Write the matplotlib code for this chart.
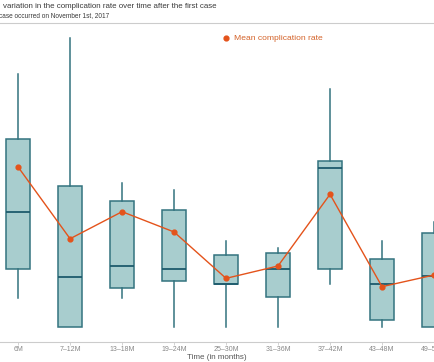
import matplotlib
matplotlib.use("Agg")
import matplotlib.pyplot as plt

plt.rcParams['font.family'] = ['Liberation Sans', 'DejaVu Sans']

categories = ["6M", "7\u201312M", "13\u201318M", "19\u201324M", "25\u201330M",
              "31\u201336M", "37\u201342M", "43\u201348M", "49\u201354M"]
whislo = [4.20, 1.41, 4.20, 1.41, 1.41, 1.41, 5.58, 1.41, 1.41]
q1     = [6.99, 1.41, 5.22, 5.89, 5.55, 4.36, 6.99, 2.12, 1.47]
median = [12.53, 6.25, 7.31, 6.99, 5.55, 6.99, 16.76, 5.58, 6.35]
q3     = [19.52, 15.00, 13.59, 12.69, 8.34, 8.53, 17.40, 8.01, 10.45]
whishi = [25.74, 29.20, 15.26, 14.62, 9.71, 9.01, 24.33, 9.71, 11.50]
mean_rate = [16.83, 9.93, 12.53, 10.58, 6.12, 7.31, 14.20, 5.32, 6.44]

W, H = 434, 362
fig = plt.figure(figsize=(W / 100, H / 100), dpi=100)
ax = fig.add_axes([0, 20 / H, 1, 312 / H])

stats = []
for i, c in enumerate(categories):
    stats.append(dict(label=c, whislo=whislo[i], q1=q1[i], med=median[i],
                      q3=q3[i], whishi=whishi[i], fliers=[]))

pos = list(range(len(categories)))
edge = "#33737f"
ax.bxp(stats, positions=pos, widths=0.46, patch_artist=True, showcaps=False,
       showfliers=False,
       boxprops=dict(facecolor="#a8cdce", edgecolor=edge, linewidth=1.1),
       medianprops=dict(color="#1d5a6c", linewidth=1.3),
       whiskerprops=dict(color=edge, linewidth=1.1))

orange = "#e4531b"
ax.plot(pos, mean_rate, color=orange, linewidth=1.0, zorder=5)
ax.scatter(pos, mean_rate, color=orange, s=12, zorder=6,
           label="Mean complication rate")

px0 = 18.3
step = 52.6
ax.set_xlim(-px0 / step, (W - px0) / step)
ax.set_ylim(0, 30)

for s in ["top", "right", "left"]:
    ax.spines[s].set_visible(False)
ax.spines["bottom"].set_color("#cccccc")
ax.spines["bottom"].set_linewidth(0.8)
ax.set_yticks([])
ax.set_xticks(pos)
ax.set_xticklabels(categories, fontsize=5, color="#888888")
ax.tick_params(axis="x", length=2, width=0.6, color="#cccccc", pad=1)
ax.set_xlabel("Time (in months)", fontsize=5.8, color="#555555", labelpad=0.5)

leg = ax.legend(loc="center left", bbox_to_anchor=(222 / W, 1 - 38 / H),
                bbox_transform=fig.transFigure, frameon=False, fontsize=6.1,
                handletextpad=0.4, borderaxespad=0, borderpad=0,
                handlelength=1.0, labelcolor="#d4632a")

fig.text(3 / W, 1 - 6.5 / H, "variation in the complication rate over time after the first case",
         fontsize=5.7, color="#3a3a3a", ha="left", va="center")
fig.text(-1 / W, 1 - 16 / H, "case occurred on November 1st, 2017",
         fontsize=4.7, color="#3a3a3a", ha="left", va="center")
fig.add_artist(plt.Line2D([0, 1], [1 - 23.3 / H, 1 - 23.3 / H],
                          transform=fig.transFigure, color="#cccccc", linewidth=0.8))

fig.savefig("out.png", dpi=100)
